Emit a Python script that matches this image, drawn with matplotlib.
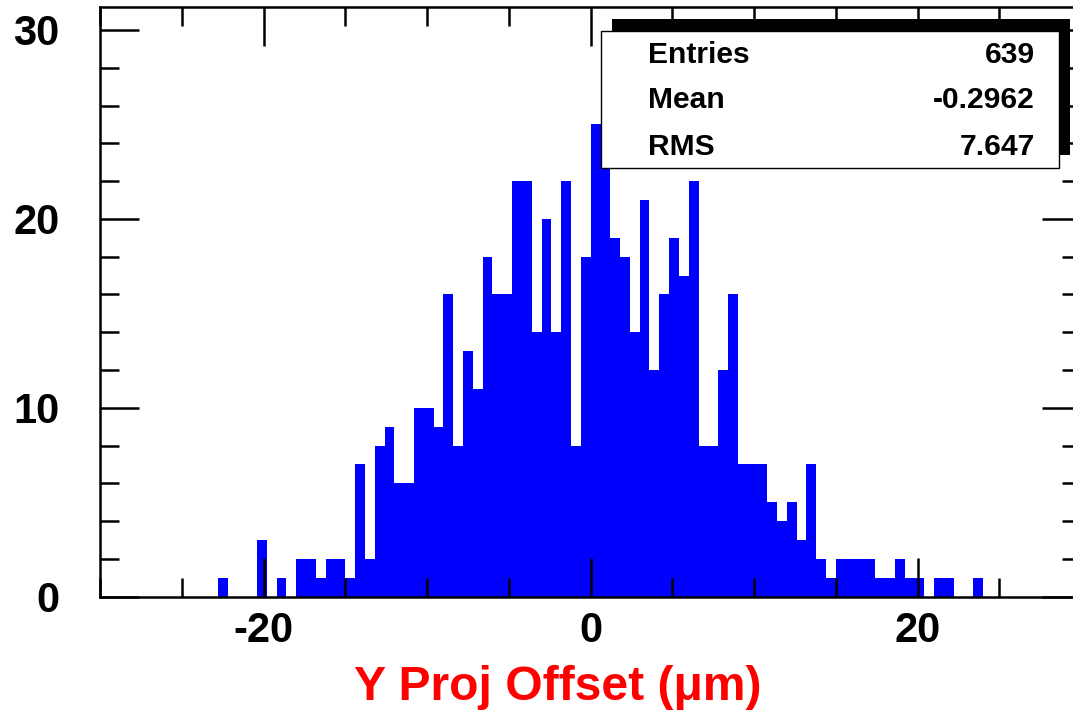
import numpy as np
import matplotlib
matplotlib.use("Agg")
import matplotlib.pyplot as plt
from matplotlib.patches import Rectangle
from matplotlib.ticker import MultipleLocator

# histogram: 100 bins from -30 to 30 um
x_min, x_max, n_bins = -30.0, 30.0, 100
counts = [0, 0, 0, 0, 0, 0, 0, 0, 0, 0,
          0, 0, 1, 0, 0, 0, 3, 0, 1, 0,
          2, 2, 1, 2, 2, 1, 7, 2, 8, 9,
          6, 6, 10, 10, 9, 16, 8, 13, 11, 18,
          16, 16, 22, 22, 14, 20, 14, 22, 8, 18,
          25, 25, 19, 18, 14, 21, 12, 16, 19, 17,
          22, 8, 8, 12, 16, 7, 7, 7, 5, 4,
          5, 3, 7, 2, 1, 2, 2, 2, 2, 1,
          1, 2, 1, 1, 0, 1, 1, 0, 0, 1,
          0, 0, 0, 0, 0, 0, 0, 0, 0, 0]
y_max = 31.2

stat_names = ["Entries", "Mean", "RMS"]
stat_values = ["639", "-0.2962", "7.647"]
x_title = "Y Proj Offset (μm)"

W, H = 1073, 713
plt.rcParams['font.family'] = ['Liberation Sans', 'DejaVu Sans']
plt.rcParams['font.weight'] = 'bold'
plt.rcParams['axes.unicode_minus'] = False

def fx(p):
    return p / W

def fy(p):
    return 1 - p / H

fig = plt.figure(figsize=(W / 100, H / 100), dpi=100)
# frame runs past the right edge of the picture (cropped)
ax = fig.add_axes([fx(100), fy(596.7), (1081.2 - 100) / W, (596.7 - 7.3) / H])

edges = np.linspace(x_min, x_max, n_bins + 1)
ax.bar(edges[:-1], counts, width=np.diff(edges), align='edge',
       color='#0000ff', edgecolor='none', zorder=1)

ax.set_xlim(x_min, x_max)
ax.set_ylim(0, y_max)
ax.xaxis.set_major_locator(MultipleLocator(20))
ax.xaxis.set_minor_locator(MultipleLocator(5))
ax.yaxis.set_major_locator(MultipleLocator(10))
ax.yaxis.set_minor_locator(MultipleLocator(2))
ax.tick_params(which='both', direction='in', top=True, right=True, width=1.8, colors='black')
ax.tick_params(which='major', length=28)
ax.tick_params(which='minor', length=13.7)
ax.tick_params(axis='x', which='major', labelsize=30, pad=10)
ax.tick_params(axis='y', which='major', labelsize=30, pad=29)
for lab in ax.get_xticklabels() + ax.get_yticklabels():
    lab.set_fontweight('bold')
for sp in ax.spines.values():
    sp.set_linewidth(1.8)

# stats box with ROOT-style shadow
shadow = Rectangle((fx(611.7), fy(155)), (1070 - 611.7) / W, (155 - 19) / H,
                   transform=fig.transFigure, facecolor='black', edgecolor='none',
                   clip_on=False, zorder=2)
box = Rectangle((fx(600.7), fy(168.3)), (1059 - 600.7) / W, (168.3 - 30.7) / H,
                transform=fig.transFigure, facecolor='white', edgecolor='black',
                linewidth=1.0, clip_on=False, zorder=2.1)
ax.add_patch(shadow)
ax.add_patch(box)
row_y = [55, 100, 146.7]
for name, val, ry in zip(stat_names, stat_values, row_y):
    ax.text(fx(648), fy(ry), name, transform=fig.transFigure, ha='left', va='center',
            fontsize=21.6, fontweight='bold', zorder=2.2)
    ax.text(fx(1035), fy(ry), val, transform=fig.transFigure, ha='right', va='center',
            fontsize=21.6, fontweight='bold', zorder=2.2)

fig.text(fx(558), fy(700), x_title, color='#ff0000', ha='center', va='baseline',
         fontsize=34.6, fontweight='bold')
# top of the next pad's label, cut off at the bottom edge
fig.text(fx(36), fy(711), "30", ha='center', va='top', fontsize=30, fontweight='bold')

fig.savefig("out.png", dpi=100)
